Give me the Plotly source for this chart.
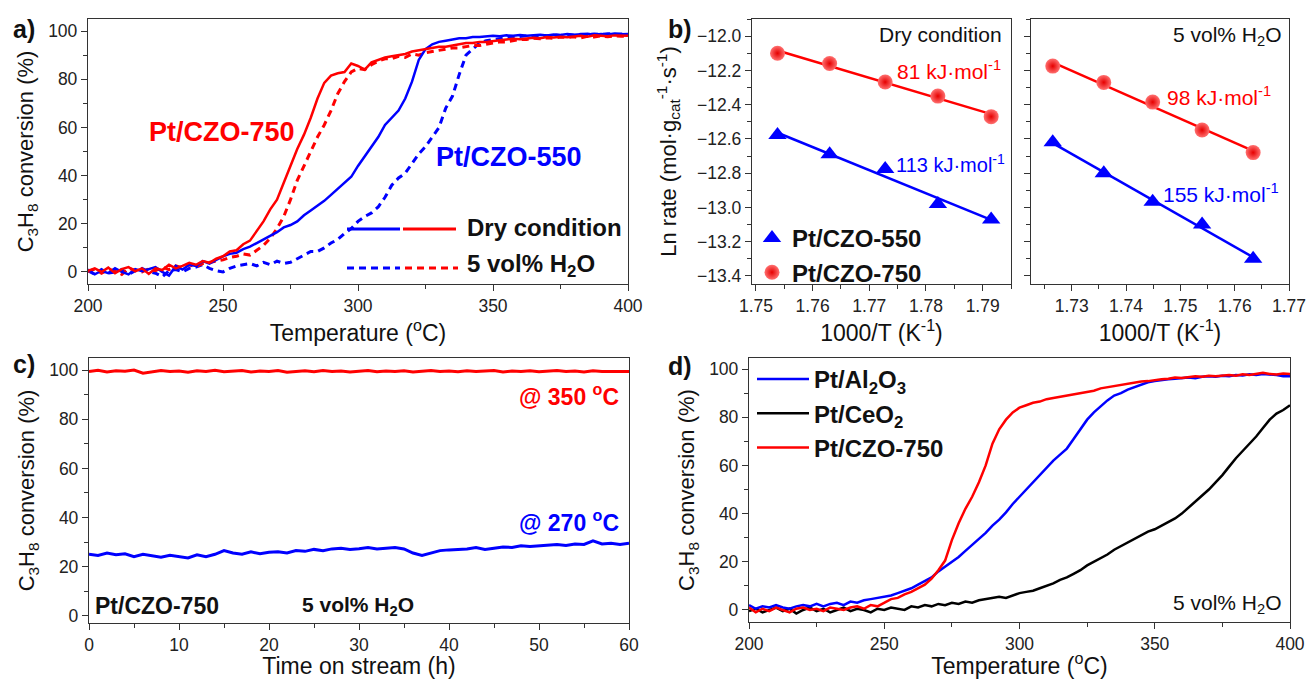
import numpy as np
import plotly.graph_objects as go

FONT = "Liberation Sans"

# ---------------- Panel a data (C3H8 conversion vs T) ----------------
temp_a = np.arange(200, 400.01, 2.5)
a_czo750_dry = [0.5, 1.5, 0.0, 1.8, -0.5, 1.2, 2.0, 0.3, 1.5, -0.8,
                1.5, 0.8, 3.0, 1.5, 2.5, 3.8, 3.0, 4.5, 3.8, 5.5,
                6.5, 8.5, 9.0, 11.5, 13.0, 17.0, 21.0, 26.0, 30.0, 37.0,
                44.0, 51.0, 57.0, 64.0, 72.0, 78.5, 81.5, 82.5, 83.0, 86.5,
                85.5, 84.0, 87.0, 88.0, 89.0, 89.5, 90.0, 90.5, 91.5, 92.0,
                92.5, 93.0, 93.5, 93.5, 94.0, 94.5, 95.0, 95.0, 95.5, 95.5,
                96.0, 96.2, 96.5, 96.8, 96.6, 97.0, 97.2, 97.0, 97.5, 97.3,
                97.6, 97.4, 97.8, 98.0, 97.6, 98.2, 98.0, 97.8, 98.2, 98.0,
                98.0]
a_czo750_wet = [0.2, 1.2, -0.5, 1.0, 0.5, -1.0, 1.5, 0.8, 0.0, 1.3,
                0.5, 2.0, 1.0, 2.5, 1.8, 3.0, 2.2, 3.5, 4.0, 4.8,
                5.0, 6.0, 6.5, 7.5, 7.0, 9.0, 11.0, 14.0, 18.0, 23.0,
                30.0, 38.0, 44.0, 50.0, 56.0, 61.0, 67.0, 74.0, 79.0, 83.0,
                84.5, 84.0, 86.0, 87.5, 88.5, 88.5, 89.5, 89.0, 90.5, 90.0,
                91.0, 91.5, 92.0, 92.5, 93.0, 93.0, 93.5, 94.0, 94.0, 94.5,
                95.0, 95.5, 95.5, 96.0, 96.5, 96.5, 97.0, 96.8, 97.2, 97.0,
                97.5, 97.3, 97.6, 97.2, 97.8, 97.5, 98.0, 97.6, 98.0, 97.8,
                98.0]
a_czo550_dry = [1.0, -1.0, 0.5, -0.5, 1.5, 0.0, -1.0, 1.2, 0.3, 1.0,
                2.0, 0.0, -1.5, 2.5, 1.0, 3.0, 2.5, 4.5, 3.5, 5.0,
                6.5, 7.5, 8.0, 9.5, 10.5, 12.0, 13.5, 15.0, 16.5, 18.5,
                19.5, 21.0, 23.5, 25.5, 27.5, 29.5, 32.0, 34.5, 37.0, 39.5,
                44.0, 48.0, 52.0, 56.0, 61.0, 64.0, 67.0, 72.0, 79.0, 88.0,
                92.5, 94.5, 95.5, 96.0, 96.5, 97.0, 97.0, 97.5, 97.5, 97.8,
                98.0, 97.8, 98.2, 98.0, 98.4, 98.0, 98.3, 98.5, 98.2, 98.6,
                98.4, 98.8, 98.5, 98.6, 98.9, 98.5, 98.8, 98.6, 99.0, 98.7,
                98.8]
a_czo550_wet = [0.5, -1.0, 1.0, -0.5, 0.0, 1.0, -1.0, 0.5, 1.5, 0.0,
                -0.5, -2.0, 0.5, 1.0, 0.0, 1.5, 2.0, 3.0, 1.5, 0.5,
                0.0, 1.5, 2.5, 3.0, 3.5, 2.5, 4.0, 3.0, 4.5, 3.5,
                4.0, 5.5, 7.0, 8.5, 8.5, 10.0, 12.0, 13.5, 16.0, 18.0,
                21.0, 23.0, 24.5, 27.0, 31.0, 36.0, 39.0, 41.0, 45.0, 49.0,
                52.0, 56.0, 60.0, 68.0, 73.0, 82.0, 90.0, 92.5, 95.0, 96.0,
                96.5, 97.0, 97.2, 97.5, 97.8, 98.0, 97.8, 98.2, 98.0, 98.4,
                98.2, 98.5, 98.3, 98.7, 98.5, 98.8, 98.6, 98.9, 98.7, 98.8,
                98.5]

# ---------------- Panel b data (Arrhenius) ----------------
b_dry_x750 = [1.7538, 1.7630, 1.7728, 1.7821, 1.7915]
b_dry_y750 = [-12.10, -12.16, -12.268, -12.35, -12.47]
b_dry_x550 = [1.7538, 1.7630, 1.7728, 1.7821, 1.7915]
b_dry_y550 = [-12.577, -12.69, -12.775, -12.98, -13.07]
b_wet_x750 = [1.7265, 1.7359, 1.7449, 1.7540, 1.7634]
b_wet_y750 = [-12.175, -12.27, -12.385, -12.548, -12.68]
b_wet_x550 = [1.7265, 1.7359, 1.7449, 1.7540, 1.7634]
b_wet_y550 = [-12.62, -12.80, -12.967, -13.10, -13.30]

# ---------------- Panel c data (stability) ----------------
time_c = np.arange(0, 60.01, 1.0)
c_350 = [99.5, 100.0, 99.3, 99.8, 99.6, 100.1, 98.8, 99.4, 99.9, 99.5,
         99.7, 99.2, 99.8, 99.5, 100.0, 99.4, 99.6, 99.9, 99.3, 99.7,
         99.5, 99.9, 99.2, 99.6, 99.8, 99.4, 99.9, 99.5, 99.7, 99.3,
         99.6, 99.9, 99.4, 99.7, 99.5, 99.8, 99.3, 99.6, 99.9, 99.5,
         99.7, 99.4, 99.8, 99.5, 99.6, 99.9, 99.3, 99.7, 99.5, 99.8,
         99.4, 99.6, 99.9, 99.5, 99.7, 99.3, 99.8, 99.5, 99.6, 99.4, 99.5]
c_270 = [25.0, 24.5, 25.5, 24.8, 25.2, 24.0, 25.0, 24.5, 23.8, 24.6, 24.2,
         23.5, 24.8, 24.0, 25.0, 26.5, 25.5, 25.0, 26.0, 25.2, 25.8,
         26.0, 25.5, 26.5, 26.2, 27.0, 26.5, 27.2, 27.5, 27.0, 27.3,
         27.8, 27.2, 27.5, 27.8, 27.2, 25.5, 24.5, 25.5, 26.5, 26.8,
         27.0, 27.2, 27.8, 27.0, 27.5, 28.0, 27.8, 28.5, 28.2, 28.5,
         28.8, 29.0, 28.6, 29.2, 29.0, 30.5, 29.2, 29.5, 29.0, 29.5]

# ---------------- Panel d data ----------------
temp_d = np.arange(200, 400.01, 2.5)
d_al2o3 = [2.0, 0.5, 1.5, 1.0, 2.0, 1.0, 0.5, 1.5, 2.0, 1.5,
           2.5, 1.5, 2.5, 3.0, 2.0, 3.5, 3.0, 4.0, 4.5, 5.0,
           5.5, 6.0, 7.0, 8.0, 9.0, 10.5, 12.0, 13.5, 16.0, 18.0,
           20.0, 22.0, 24.5, 27.0, 29.5, 32.0, 35.0, 37.5, 40.5, 44.0,
           47.0, 50.0, 53.0, 56.0, 59.0, 62.0, 64.5, 67.0, 71.0, 75.0,
           79.0, 82.0, 84.5, 87.0, 89.0, 90.0, 91.5, 92.5, 93.5, 94.5,
           95.0, 95.5, 95.8, 96.0, 96.3, 96.5, 96.2, 96.8, 97.0, 96.8,
           97.2, 97.0, 97.5, 97.3, 97.8, 97.5, 98.0, 97.8, 97.5, 97.0,
           97.0]
d_ceo2 = [-0.5, 0.5, -1.0, 0.0, 1.0, -0.5, 0.5, -1.5, 0.0, 1.0,
          -0.5, 0.5, -1.0, 0.0, 1.0, -0.5, 0.5, 0.0, -1.0, 0.5,
          0.0, 1.0, 0.5, 0.0, 1.5, 1.0, 2.0, 1.5, 2.5, 2.0,
          3.0, 2.5, 3.5, 3.0, 4.0, 4.5, 5.0, 5.5, 5.0, 6.0,
          7.0, 7.5, 8.0, 9.0, 10.0, 11.0, 12.5, 13.5, 15.0, 16.5,
          18.5, 20.0, 21.5, 23.0, 25.0, 26.5, 28.0, 29.5, 31.0, 32.5,
          33.5, 35.0, 36.5, 38.0, 40.0, 42.5, 45.0, 47.5, 50.0, 53.0,
          56.0, 59.5, 63.0, 66.0, 69.0, 72.0, 75.5, 79.0, 81.5, 83.0,
          85.0]
d_czo750 = [1.0, -1.0, 0.5, -0.5, 1.0, 0.0, -1.0, 0.5, 1.0, 0.0,
            0.5, -0.5, 1.0, 0.5, 0.0, 1.0, 1.5, 0.5, 2.0, 1.5,
            3.0, 4.5, 5.0, 6.5, 7.5, 9.0, 10.5, 13.0, 16.5, 20.5,
            29.0, 36.0, 42.0, 47.0, 53.0, 60.0, 69.0, 75.0, 79.0, 82.0,
            84.0, 85.0, 86.0, 86.5, 87.5, 88.0, 88.5, 89.0, 89.5, 90.0,
            90.5, 91.0, 92.0, 92.5, 93.0, 93.5, 94.0, 94.5, 94.8, 95.0,
            95.5, 95.8, 96.0, 96.5, 96.3, 96.8, 97.0, 96.8, 97.2, 97.0,
            97.3, 97.5, 97.2, 97.8, 97.5, 98.0, 98.5, 98.0, 97.8, 98.2,
            98.0]

for arr in (a_czo750_dry, a_czo750_wet, a_czo550_dry, a_czo550_wet):
    assert len(arr) == len(temp_a)
for arr in (d_al2o3, d_ceo2, d_czo750):
    assert len(arr) == len(temp_d)
assert len(c_350) == len(time_c) and len(c_270) == len(time_c)

RED = "#ff0000"
BLUE = "#0000ff"
AX = "#333333"

fig = go.Figure()

# panel a
fig.add_trace(go.Scatter(x=temp_a, y=a_czo550_wet, mode="lines", xaxis="x", yaxis="y",
                         line=dict(color=BLUE, width=3, dash="7px,5px"), showlegend=False))
fig.add_trace(go.Scatter(x=temp_a, y=a_czo750_wet, mode="lines", xaxis="x", yaxis="y",
                         line=dict(color=RED, width=3, dash="7px,5px"), showlegend=False))
fig.add_trace(go.Scatter(x=temp_a, y=a_czo550_dry, mode="lines", xaxis="x", yaxis="y",
                         line=dict(color=BLUE, width=2.5), showlegend=False))
fig.add_trace(go.Scatter(x=temp_a, y=a_czo750_dry, mode="lines", xaxis="x", yaxis="y",
                         line=dict(color=RED, width=2.5), showlegend=False))

# panel b
def fit_line(xs, ys):
    k, b0 = np.polyfit(xs, ys, 1)
    xx = np.array([min(xs), max(xs)])
    return xx, k * xx + b0

for xs, ys, col, ax_x, ax_y in [
    (b_dry_x750, b_dry_y750, RED, "x2", "y2"),
    (b_dry_x550, b_dry_y550, BLUE, "x2", "y2"),
    (b_wet_x750, b_wet_y750, RED, "x3", "y3"),
    (b_wet_x550, b_wet_y550, BLUE, "x3", "y3"),
]:
    fx, fy = fit_line(xs, ys)
    fig.add_trace(go.Scatter(x=fx, y=fy, mode="lines", xaxis=ax_x, yaxis=ax_y,
                             line=dict(color=col, width=2.5), showlegend=False))

tri = dict(symbol="triangle-up", size=16, color=BLUE)
circ = dict(symbol="circle", size=15, color="#ff7070",
            gradient=dict(type="radial", color="#e60000"), line=dict(width=0))
fig.add_trace(go.Scatter(x=b_dry_x550, y=b_dry_y550, mode="markers", xaxis="x2", yaxis="y2",
                         marker=tri, name="<b>Pt/CZO-550</b>", legend="legend"))
fig.add_trace(go.Scatter(x=b_dry_x750, y=b_dry_y750, mode="markers", xaxis="x2", yaxis="y2",
                         marker=circ, name="<b>Pt/CZO-750</b>", legend="legend"))
fig.add_trace(go.Scatter(x=b_wet_x550, y=b_wet_y550, mode="markers", xaxis="x3", yaxis="y3",
                         marker=tri, showlegend=False))
fig.add_trace(go.Scatter(x=b_wet_x750, y=b_wet_y750, mode="markers", xaxis="x3", yaxis="y3",
                         marker=circ, showlegend=False))

# panel c
fig.add_trace(go.Scatter(x=time_c, y=c_350, mode="lines", xaxis="x4", yaxis="y4",
                         line=dict(color=RED, width=3), showlegend=False))
fig.add_trace(go.Scatter(x=time_c, y=c_270, mode="lines", xaxis="x4", yaxis="y4",
                         line=dict(color=BLUE, width=3), showlegend=False))

# panel d
fig.add_trace(go.Scatter(x=temp_d, y=d_ceo2, mode="lines", xaxis="x5", yaxis="y5",
                         line=dict(color="black", width=2.5), name="<b>Pt/CeO<sub>2</sub></b>",
                         legend="legend2", legendrank=2))
fig.add_trace(go.Scatter(x=temp_d, y=d_al2o3, mode="lines", xaxis="x5", yaxis="y5",
                         line=dict(color=BLUE, width=2.5), name="<b>Pt/Al<sub>2</sub>O<sub>3</sub></b>",
                         legend="legend2", legendrank=1))
fig.add_trace(go.Scatter(x=temp_d, y=d_czo750, mode="lines", xaxis="x5", yaxis="y5",
                         line=dict(color=RED, width=2.5), name="<b>Pt/CZO-750</b>",
                         legend="legend2", legendrank=3))

W, H = 1306, 679
def px(x):
    return x / W
def py(y):
    return 1 - y / H

tickfont = dict(family=FONT, size=17.5, color="#222")
ytitlefont = dict(family=FONT, size=22, color="#111")
xtitlefont = dict(family=FONT, size=23, color="#111")

def axis(domain, rng, dtick, minor_dtick, title=None, anchor=None, showlabels=True,
         standoff=None, fmt=None, tfont=None):
    d = dict(domain=domain, range=rng, dtick=dtick,
             ticks="outside", ticklen=6, tickwidth=1.2, tickcolor=AX,
             showline=True, linecolor=AX, linewidth=1.3, mirror=True,
             showgrid=False, zeroline=False, tickfont=tickfont, automargin=False,
             ticklabeloverflow="allow",
             showticklabels=showlabels, anchor=anchor,
             minor=dict(dtick=minor_dtick, ticks="outside", ticklen=3.5, tickcolor=AX, tickwidth=1, showgrid=False))
    if dtick >= 1:
        d["tick0"] = 0
    if fmt:
        d["tickformat"] = fmt
    if title:
        d["title"] = dict(text=title, font=tfont)
        if standoff is not None:
            d["title"]["standoff"] = standoff
    return d

yconv = "C<sub>3</sub>H<sub>8</sub> conversion (%)"
tempT = "Temperature (<sup>o</sup>C)"

layout = dict(
    width=W, height=H, margin=dict(l=0, r=0, t=0, b=0, autoexpand=False),
    paper_bgcolor="white", plot_bgcolor="white",
    font=dict(family=FONT, color="#111"),
    xaxis=axis([px(88), px(628)], [200, 400], 50, 25, tempT, "y", standoff=3, tfont=xtitlefont),
    yaxis=axis([py(284), py(19)], [-5, 105], 20, 10, yconv, "x", standoff=8, tfont=ytitlefont),
    xaxis2=axis([px(752), px(1011)], [1.7493, 1.795], 0.01, 0.005, "1000/T (K<sup>-1</sup>)", "y2",
                standoff=3, fmt=".2f", tfont=xtitlefont),
    yaxis2=axis([py(284), py(19)], [-13.447, -11.9], 0.2, 0.1,
                "Ln rate (mol·g<sub>cat</sub><sup>-1</sup>·s<sup>-1</sup>)", "x2", standoff=14, fmt=".1f",
                tfont=ytitlefont),
    xaxis3=axis([px(1031), px(1289)], [1.7225, 1.77], 0.01, 0.005, "1000/T (K<sup>-1</sup>)", "y3",
                standoff=3, fmt=".2f", tfont=xtitlefont),
    yaxis3=axis([py(284), py(19)], [-13.447, -11.9], 0.2, 0.1, None, "x3", showlabels=False),
    xaxis4=axis([px(89), px(629)], [0, 60], 10, 5, "Time on stream (h)", "y4", standoff=0, tfont=xtitlefont),
    yaxis4=axis([py(623), py(358)], [-3, 105], 20, 10, yconv, "x4", standoff=8, tfont=ytitlefont),
    xaxis5=axis([px(749), px(1290)], [200, 400], 50, 25, tempT, "y5", standoff=0, tfont=xtitlefont),
    yaxis5=axis([py(622), py(358)], [-5, 104.6], 20, 10, yconv, "x5", standoff=8, tfont=ytitlefont),
    legend=dict(x=px(752), y=py(216), xanchor="left", yanchor="top", bgcolor="rgba(0,0,0,0)",
                font=dict(family=FONT, size=24, color="#111"), tracegroupgap=0, itemwidth=30),
    legend2=dict(x=px(752), y=py(357), xanchor="left", yanchor="top", bgcolor="rgba(0,0,0,0)",
                 font=dict(family=FONT, size=24, color="#111"), tracegroupgap=0, traceorder="normal",
                 itemwidth=52),
)
fig.update_layout(**layout)

ann = []
def A(text, x, y, size, color="#111", xanchor="center", bold=False):
    t = f"<b>{text}</b>" if bold else text
    ann.append(dict(text=t, x=px(x), y=py(y), xref="paper", yref="paper", showarrow=False,
                    xanchor=xanchor, yanchor="middle", font=dict(family=FONT, size=size, color=color)))

# panel letters
A("a)", 24, 29, 25, bold=True)
A("b)", 680, 29, 25, bold=True)
A("c)", 24, 364, 25, bold=True)
A("d)", 680, 366, 25, bold=True)

# panel a
A("Pt/CZO-750", 222, 132, 27, RED, bold=True)
A("Pt/CZO-550", 509, 157, 27, BLUE, bold=True)
A("Dry condition", 465, 228, 24, xanchor="left", bold=True)
A("5 vol% H<sub>2</sub>O", 465, 266, 24, xanchor="left", bold=True)

# panel b
A("Dry condition", 1004, 34, 21, xanchor="right")
A("5 vol% H<sub>2</sub>O", 1284, 36, 21, xanchor="right")
A("81 kJ·mol<sup>-1</sup>", 1003, 70, 21, RED, xanchor="right")
A("113 kJ·mol<sup>-1</sup>", 1007, 163, 20, BLUE, xanchor="right")
A("98 kJ·mol<sup>-1</sup>", 1273, 96, 21, RED, xanchor="right")
A("155 kJ·mol<sup>-1</sup>", 1281, 193, 21, BLUE, xanchor="right")

# panel c
A("@ 350 <sup>o</sup>C", 621, 395, 23, RED, xanchor="right", bold=True)
A("@ 270 <sup>o</sup>C", 621, 521, 23, BLUE, xanchor="right", bold=True)
A("Pt/CZO-750", 93, 606, 23, xanchor="left", bold=True)
A("5 vol% H<sub>2</sub>O", 300, 606, 21, xanchor="left", bold=True)

# panel d
A("5 vol% H<sub>2</sub>O", 1284, 604, 21, xanchor="right")

fig.update_layout(annotations=ann)

# panel a legend line samples (paper coords)
shapes = []
def seg(x0, x1, y, color, dash=None):
    shapes.append(dict(type="line", xref="paper", yref="paper", x0=px(x0), x1=px(x1), y0=py(y), y1=py(y),
                       line=dict(color=color, width=3, dash=dash or "solid")))
seg(347, 400, 229, BLUE)
seg(403, 456, 229, RED)
seg(347, 400, 268, BLUE, "7px,5px")
seg(405, 458, 268, RED, "7px,5px")
fig.update_layout(shapes=shapes)

fig.write_html("out.html",
               config={"displayModeBar": False},
               post_script="document.body.style.margin='0';document.body.style.overflow='hidden';")
